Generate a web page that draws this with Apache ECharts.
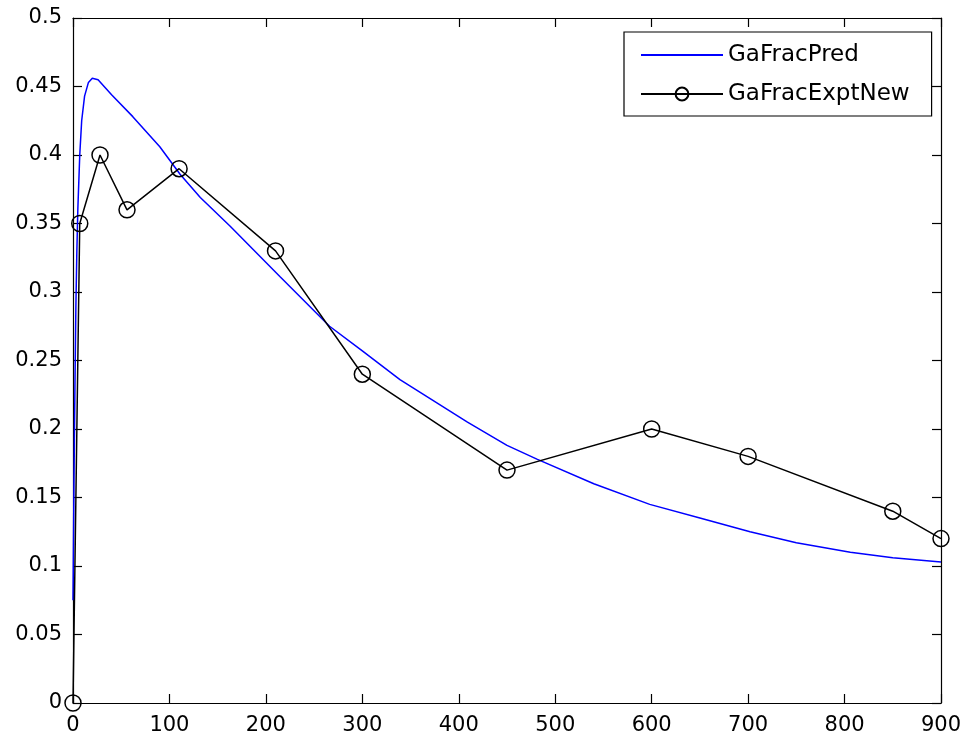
<!DOCTYPE html>
<html>
<head>
<meta charset="utf-8">
<script src="https://cdn.jsdelivr.net/npm/echarts@6/dist/echarts.min.js"></script>
<style>html,body{margin:0;padding:0;background:#fff;}#c{width:965px;height:739px;}</style>
</head>
<body>
<div id="c"></div>
<script>
var predX = [0, 1, 2, 3, 4, 5, 7, 9, 12, 16, 20, 26, 40, 62, 90, 111, 132, 163, 215, 266, 300, 339, 409, 450, 481, 540, 598, 650, 702, 750, 806, 850, 900];
var predY = [0.075, 0.16, 0.23, 0.29, 0.33, 0.36, 0.40, 0.425, 0.443, 0.453, 0.456, 0.455, 0.444, 0.428, 0.406, 0.386, 0.369, 0.348, 0.311, 0.275, 0.257, 0.236, 0.205, 0.188, 0.178, 0.160, 0.145, 0.135, 0.125, 0.117, 0.110, 0.106, 0.103];
var exptX = [0, 7, 28, 56, 110, 210, 300, 450, 600, 700, 850, 900];
var exptY = [0, 0.35, 0.40, 0.36, 0.39, 0.33, 0.24, 0.17, 0.20, 0.18, 0.14, 0.12];
var seriesNames = ['GaFracPred', 'GaFracExptNew'];

function zip(a, b) { return a.map(function (v, i) { return [v, b[i]]; }); }

var FONT = 'DejaVu Sans';
var axisLineStyle = { color: '#000', width: 1.2 };
var chart = echarts.init(document.getElementById('c'), null, { renderer: 'canvas' });
chart.setOption({
  animation: false,
  backgroundColor: '#fff',
  grid: { left: 73, right: 24, top: 18, bottom: 36, containLabel: false },
  legend: {
    orient: 'vertical',
    left: 624,
    top: 32,
    padding: [11, 22, 10, 16],
    itemWidth: 82,
    itemHeight: 16,
    itemGap: 15,
    borderColor: '#000',
    borderWidth: 1.2,
    backgroundColor: '#fff',
    textStyle: { fontFamily: FONT, fontSize: 23, color: '#000', lineHeight: 24 },
    data: [
      { name: seriesNames[0], itemStyle: { opacity: 0 } },
      { name: seriesNames[1] }
    ]
  },
  xAxis: [{
    type: 'value', min: 0, max: 900, interval: 100, position: 'bottom',
    axisLine: { show: true, onZero: false, lineStyle: axisLineStyle },
    axisTick: { show: true, inside: true, length: 9, lineStyle: axisLineStyle },
    axisLabel: { fontFamily: FONT, fontSize: 21, color: '#000', margin: 12 },
    splitLine: { show: false }
  }, {
    type: 'value', min: 0, max: 900, interval: 100, position: 'top',
    axisLine: { show: true, onZero: false, lineStyle: axisLineStyle },
    axisTick: { show: true, inside: true, length: 9, lineStyle: axisLineStyle },
    axisLabel: { show: false },
    splitLine: { show: false }
  }],
  yAxis: [{
    type: 'value', min: 0, max: 0.5, interval: 0.05, position: 'left',
    axisLine: { show: true, onZero: false, lineStyle: axisLineStyle },
    axisTick: { show: true, inside: true, length: 9, lineStyle: axisLineStyle },
    axisLabel: { fontFamily: FONT, fontSize: 21, color: '#000', margin: 11 },
    splitLine: { show: false }
  }, {
    type: 'value', min: 0, max: 0.5, interval: 0.05, position: 'right',
    axisLine: { show: true, onZero: false, lineStyle: axisLineStyle },
    axisTick: { show: true, inside: true, length: 9, lineStyle: axisLineStyle },
    axisLabel: { show: false },
    splitLine: { show: false }
  }],
  series: [{
    name: seriesNames[0],
    type: 'line',
    data: zip(predX, predY),
    symbol: 'none',
    smooth: false,
    lineStyle: { color: '#0000ff', width: 1.5 },
    itemStyle: { color: '#0000ff' },
    z: 2
  }, {
    name: seriesNames[1],
    type: 'line',
    data: zip(exptX, exptY),
    symbol: 'circle',
    symbolSize: 16,
    showAllSymbol: true,
    lineStyle: { color: '#000', width: 1.5 },
    itemStyle: { color: 'rgba(255,255,255,0)', borderColor: '#000', borderWidth: 1.5 },
    z: 3
  }]
});
</script>
</body>
</html>
